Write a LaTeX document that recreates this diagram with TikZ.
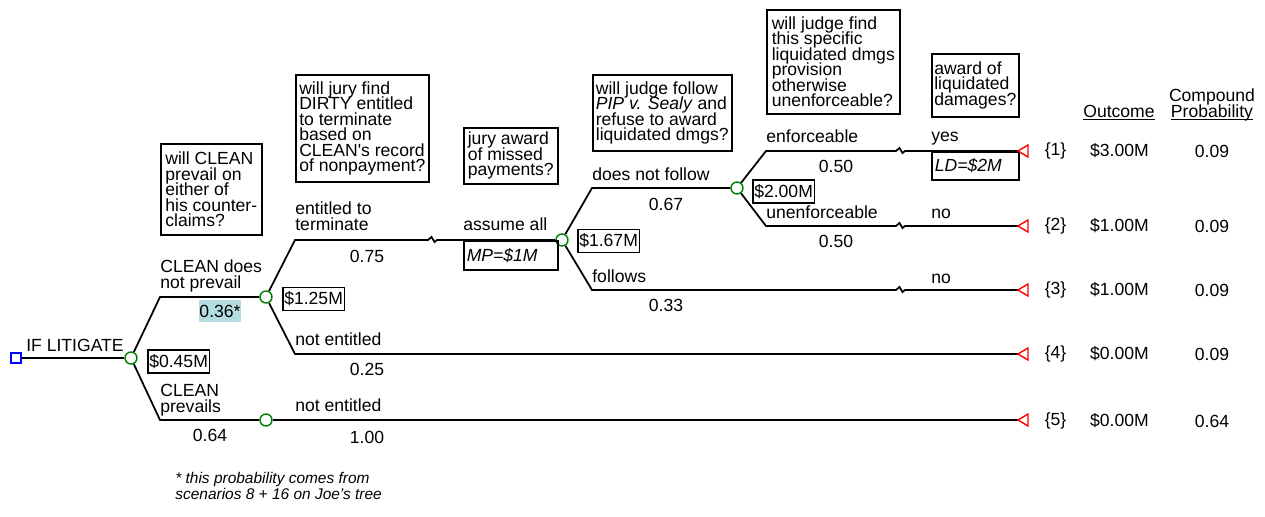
\documentclass[tikz,border=0pt]{standalone}
\usepackage{fontspec}
\setmainfont{Liberation Sans}
\pgfdeclarelayer{bg}
\pgfsetlayers{bg,main}
\definecolor{chancegreen}{RGB}{0,128,0}
\definecolor{hilite}{RGB}{180,221,224}
\newcommand{\treefont}{\fontsize{10}{8.8}\selectfont\lineskiplimit=-20pt\relax}
\newcommand{\notefont}{\fontsize{8.8}{8.6}\selectfont\itshape\lineskiplimit=-20pt\relax}
\tikzset{
        branch/.style={line width=1pt},
        chance/.style={circle, draw=chancegreen, line width=0.8pt, fill=white, minimum size=0.24cm, inner sep=0pt},
        choice/.style={rectangle, draw=blue, line width=0.8pt, fill=white, minimum size=0.20cm, inner sep=0pt},
        endpt/.style={draw=red, line width=0.8pt, fill=white},
        lbl/.style={anchor=base west, align=left, inner sep=0pt, font=\treefont},
        prob/.style={inner sep=0pt, align=center, font=\treefont},
        qbox/.style={draw, line width=0.9pt, anchor=north west, align=left, inner sep=0pt, font=\treefont},
        valbox/.style={draw, line width=0.9pt, anchor=west, inner xsep=0.03cm, inner ysep=0pt, minimum height=0.46cm, font=\treefont},
        awardbox/.style={draw, line width=0.9pt, anchor=north west, align=left, inner xsep=0.06cm, inner ysep=0pt, font=\treefont\itshape},
        brk/.style={insert path={-- ++(0.07cm,0.06cm) -- ++(0.06cm,-0.10cm) -- ++(0.05cm,0.04cm)}}
}
\begin{document}
\begin{tikzpicture}
        \useasboundingbox (0cm, 0cm) rectangle (25.300000cm, -10.320000cm);
        % decision and chance points
        \node (sq) [choice] at (0.320000cm, -7.160000cm) {};
        \node (c1) [chance] at (2.620000cm, -7.160000cm) {};
        \node (c2) [chance] at (5.320000cm, -5.940000cm) {};
        \node (c2b) [chance] at (5.320000cm, -8.400000cm) {};
        \node (c3) [chance] at (11.240000cm, -4.800000cm) {};
        \node (c4) [chance] at (14.740000cm, -3.760000cm) {};
        % kinks, breaks and end points
        \coordinate (k1u) at (3.200000cm, -5.940000cm);
        \coordinate (k1d) at (3.200000cm, -8.400000cm);
        \coordinate (k2u) at (5.900000cm, -4.800000cm);
        \coordinate (k2d) at (5.900000cm, -7.080000cm);
        \coordinate (k3u) at (11.840000cm, -3.760000cm);
        \coordinate (k3d) at (11.840000cm, -5.800000cm);
        \coordinate (k4u) at (15.320000cm, -3.020000cm);
        \coordinate (k4d) at (15.320000cm, -4.520000cm);
        \coordinate (b0) at (8.560000cm, -4.800000cm);
        \coordinate (b1) at (17.920000cm, -3.020000cm);
        \coordinate (b2) at (17.920000cm, -4.520000cm);
        \coordinate (b3) at (17.920000cm, -5.800000cm);
        \coordinate (t1) at (20.360000cm, -3.020000cm);
        \coordinate (t2) at (20.360000cm, -4.520000cm);
        \coordinate (t3) at (20.360000cm, -5.800000cm);
        \coordinate (t4) at (20.360000cm, -7.080000cm);
        \coordinate (t5) at (20.360000cm, -8.400000cm);
        % questions
        \node (q1) [qbox, minimum width=2.02cm, minimum height=1.82cm] at (3.200000cm, -2.860000cm) {will CLEAN\\prevail on\\either of\\his counter-\\claims?};
        \node (q2) [qbox, minimum width=2.66cm, minimum height=2.14cm] at (5.900000cm, -1.480000cm) {will jury find\\DIRTY entitled\\to terminate\\based on\\CLEAN\textquotesingle s record\\of nonpayment?};
        \node (q3) [qbox, minimum width=1.88cm, minimum height=1.12cm] at (9.260000cm, -2.540000cm) {jury award\\of missed\\payments?};
        \node (q4) [qbox, minimum width=2.78cm, minimum height=1.52cm] at (11.840000cm, -1.480000cm) {will judge follow\\\textit{PIP v. Sealy} and\\refuse to award\\liquidated dmgs?};
        \node (q5) [qbox, minimum width=2.66cm, minimum height=2.08cm] at (15.320000cm, -0.180000cm) {will judge find\\this specific\\liquidated dmgs\\provision\\otherwise\\unenforceable?};
        \node (q6) [qbox, minimum width=1.74cm, minimum height=1.26cm] at (18.620000cm, -1.060000cm) {award of\\liquidated\\damages?};
        % branch labels
        \node (l0) [lbl] at (0.520000cm, -7.020000cm) {IF LITIGATE};
        \node (l1) [lbl] at (3.200000cm, -5.760000cm) {CLEAN does\\not prevail};
        \node (l2) [lbl] at (3.200000cm, -8.240000cm) {CLEAN\\prevails};
        \node (l3) [lbl] at (5.900000cm, -4.600000cm) {entitled to\\terminate};
        \node (l4) [lbl] at (5.900000cm, -6.900000cm) {not entitled};
        \node (l5) [lbl] at (5.900000cm, -8.220000cm) {not entitled};
        \node (l6) [lbl] at (9.260000cm, -4.600000cm) {assume all};
        \node (l7) [lbl] at (11.840000cm, -3.600000cm) {does not follow};
        \node (l8) [lbl] at (11.840000cm, -5.640000cm) {follows};
        \node (l9) [lbl] at (15.320000cm, -2.840000cm) {enforceable};
        \node (l10) [lbl] at (15.320000cm, -4.360000cm) {unenforceable};
        \node (l11) [lbl] at (18.620000cm, -2.820000cm) {yes};
        \node (l12) [lbl] at (18.620000cm, -4.360000cm) {no};
        \node (l13) [lbl] at (18.620000cm, -5.660000cm) {no};
        % probabilities
        \node (p1) [prob, fill=hilite, minimum width=0.84cm, minimum height=0.44cm] at (4.400000cm, -6.220000cm) {0.36*};
        \node (p2) [prob] at (4.200000cm, -8.700000cm) {0.64};
        \node (p3) [prob] at (7.340000cm, -5.120000cm) {0.75};
        \node (p4) [prob] at (7.340000cm, -7.380000cm) {0.25};
        \node (p5) [prob] at (7.340000cm, -8.740000cm) {1.00};
        \node (p6) [prob] at (13.320000cm, -4.080000cm) {0.67};
        \node (p7) [prob] at (13.320000cm, -6.100000cm) {0.33};
        \node (p8) [prob] at (16.720000cm, -3.320000cm) {0.50};
        \node (p9) [prob] at (16.720000cm, -4.820000cm) {0.50};
        % values
        \node (v1) [valbox] at (2.940000cm, -7.230000cm) {\$0.45M};
        \node (v2) [valbox] at (5.640000cm, -5.980000cm) {\$1.25M};
        \node (v3) [valbox] at (11.540000cm, -4.820000cm) {\$1.67M};
        \node (v4) [valbox] at (15.040000cm, -3.830000cm) {\$2.00M};
        \node (mp) [awardbox, text width=1.76cm, minimum height=0.58cm] at (9.260000cm, -4.800000cm) {MP=\$1M};
        \node (ld) [awardbox, text width=1.62cm, minimum height=0.56cm] at (18.620000cm, -3.020000cm) {LD=\$2M};
        % outcome table
        \node (hout) [prob, anchor=base] at (22.380000cm, -2.340000cm) {\underline{\smash{Outcome}}};
        \node (hcp) [prob, anchor=base] at (24.240000cm, -2.340000cm) {Compound\\\underline{\smash{Probability}}};
        \node (n1) [prob] at (21.110000cm, -3.020000cm) {\{1\}};
        \node (n2) [prob] at (21.110000cm, -4.520000cm) {\{2\}};
        \node (n3) [prob] at (21.110000cm, -5.800000cm) {\{3\}};
        \node (n4) [prob] at (21.110000cm, -7.080000cm) {\{4\}};
        \node (n5) [prob] at (21.110000cm, -8.420000cm) {\{5\}};
        \node (o1) [prob] at (22.390000cm, -3.020000cm) {\$3.00M};
        \node (o2) [prob] at (22.390000cm, -4.520000cm) {\$1.00M};
        \node (o3) [prob] at (22.390000cm, -5.800000cm) {\$1.00M};
        \node (o4) [prob] at (22.390000cm, -7.080000cm) {\$0.00M};
        \node (o5) [prob] at (22.390000cm, -8.420000cm) {\$0.00M};
        \node (r1) [prob] at (24.240000cm, -3.020000cm) {0.09};
        \node (r2) [prob] at (24.240000cm, -4.520000cm) {0.09};
        \node (r3) [prob] at (24.240000cm, -5.800000cm) {0.09};
        \node (r4) [prob] at (24.240000cm, -7.080000cm) {0.09};
        \node (r5) [prob] at (24.240000cm, -8.420000cm) {0.64};
        % footnote
        \node (fn) [anchor=base west, align=left, inner sep=0pt, font=\notefont] at (3.500000cm, -9.980000cm) {* this probability comes from\\scenarios 8 + 16 on Joe’s tree};
        \begin{pgfonlayer}{bg}
                \draw [branch] (sq) -- (c1);
                \draw [branch] (c1) -- (k1u) -- (c2);
                \draw [branch] (c1) -- (k1d) -- (c2b);
                \draw [branch] (c2) -- (k2u) -- (b0) [brk] -- (c3);
                \draw [branch] (c2) -- (k2d) -- (t4);
                \draw [branch] (c2b) -- (t5);
                \draw [branch] (c3) -- (k3u) -- (c4);
                \draw [branch] (c3) -- (k3d) -- (b3) [brk] -- (t3);
                \draw [branch] (c4) -- (k4u) -- (b1) [brk] -- (t1);
                \draw [branch] (c4) -- (k4d) -- (b2) [brk] -- (t2);
        \end{pgfonlayer}
        \draw [endpt] (t1) -- ++(0.20cm, 0.12cm) -- ++(0cm, -0.24cm) -- cycle;
        \draw [endpt] (t2) -- ++(0.20cm, 0.12cm) -- ++(0cm, -0.24cm) -- cycle;
        \draw [endpt] (t3) -- ++(0.20cm, 0.12cm) -- ++(0cm, -0.24cm) -- cycle;
        \draw [endpt] (t4) -- ++(0.20cm, 0.12cm) -- ++(0cm, -0.24cm) -- cycle;
        \draw [endpt] (t5) -- ++(0.20cm, 0.12cm) -- ++(0cm, -0.24cm) -- cycle;
\end{tikzpicture}
\end{document}
